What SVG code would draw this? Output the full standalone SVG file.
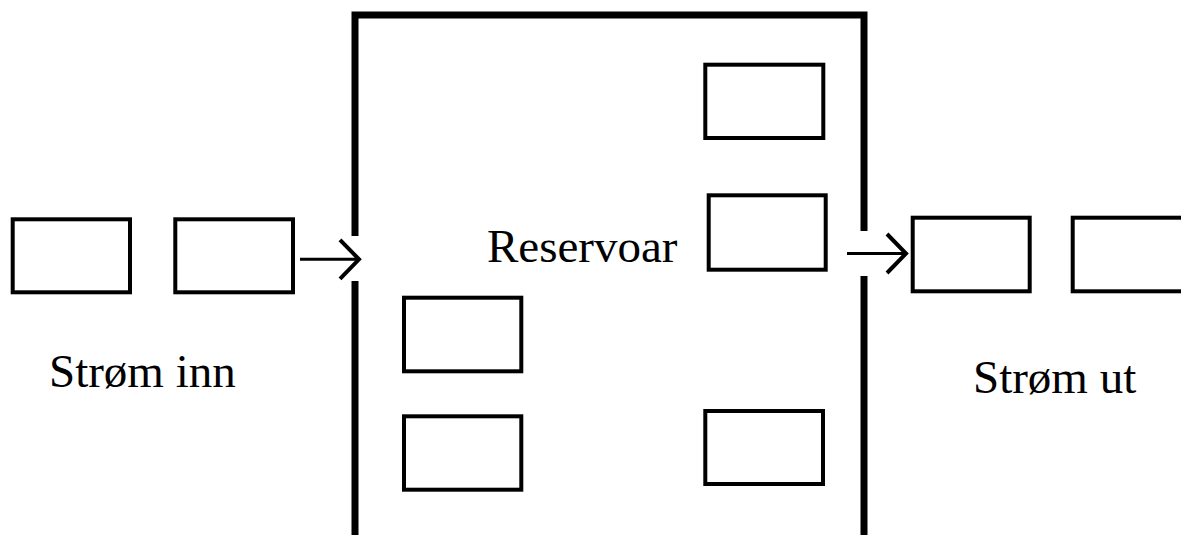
<svg xmlns="http://www.w3.org/2000/svg" width="1181" height="535" viewBox="0 0 1181 535">
<style>
.box{fill:#fff;stroke:#000;stroke-width:4}
.wall{fill:none;stroke:#000;stroke-width:7;stroke-linejoin:miter}
.conn{fill:none;stroke:#000;stroke-width:3;marker-end:url(#arr)}
.lbl{font-family:"Liberation Serif","Times New Roman",serif;font-size:47px;fill:#000}
</style>
<defs>
<marker id="arr" markerUnits="userSpaceOnUse" viewBox="-25 -25 30 50" markerWidth="30" markerHeight="50" refX="0" refY="0" orient="auto" overflow="visible">
<path d="M-19,-19.5 L0,0 L-19,19.5" fill="none" stroke="#000" stroke-width="4" stroke-linejoin="miter"/>
</marker>
</defs>
<rect width="1181" height="535" fill="#fff"/>
<g id="reservoir">
<path class="wall" d="M355,540 V281 M355,236 V15 H864 V231 M864,276 V540"/>
<text class="lbl" x="487" y="262" font-size="46">Reservoar</text>
</g>
<g id="in-box-1"><rect class="box" x="12.7" y="219.3" width="117.3" height="73"/></g>
<g id="in-box-2"><rect class="box" x="175.3" y="219.3" width="117.7" height="73"/></g>
<g id="out-box-1"><rect class="box" x="912.7" y="217.7" width="117" height="73.6"/></g>
<g id="out-box-2"><rect class="box" x="1072.7" y="217.7" width="120" height="73.6"/></g>
<g id="res-box-tr1"><rect class="box" x="705.3" y="64.7" width="118" height="73.3"/></g>
<g id="res-box-tr2"><rect class="box" x="708.7" y="195.3" width="117" height="74.4"/></g>
<g id="res-box-l1"><rect class="box" x="404" y="297.7" width="117.3" height="73.6"/></g>
<g id="res-box-l2"><rect class="box" x="404" y="416.3" width="117.3" height="73.4"/></g>
<g id="res-box-br"><rect class="box" x="705.3" y="411" width="117.7" height="73"/></g>
<g id="label-in"><text class="lbl" x="49" y="387">Strøm inn</text></g>
<g id="label-out"><text class="lbl" x="973" y="393">Strøm ut</text></g>
<g id="connectors">
<path class="conn" d="M300,259.3 H359"/>
<path class="conn" d="M847,253.5 H906"/>
</g>
</svg>
